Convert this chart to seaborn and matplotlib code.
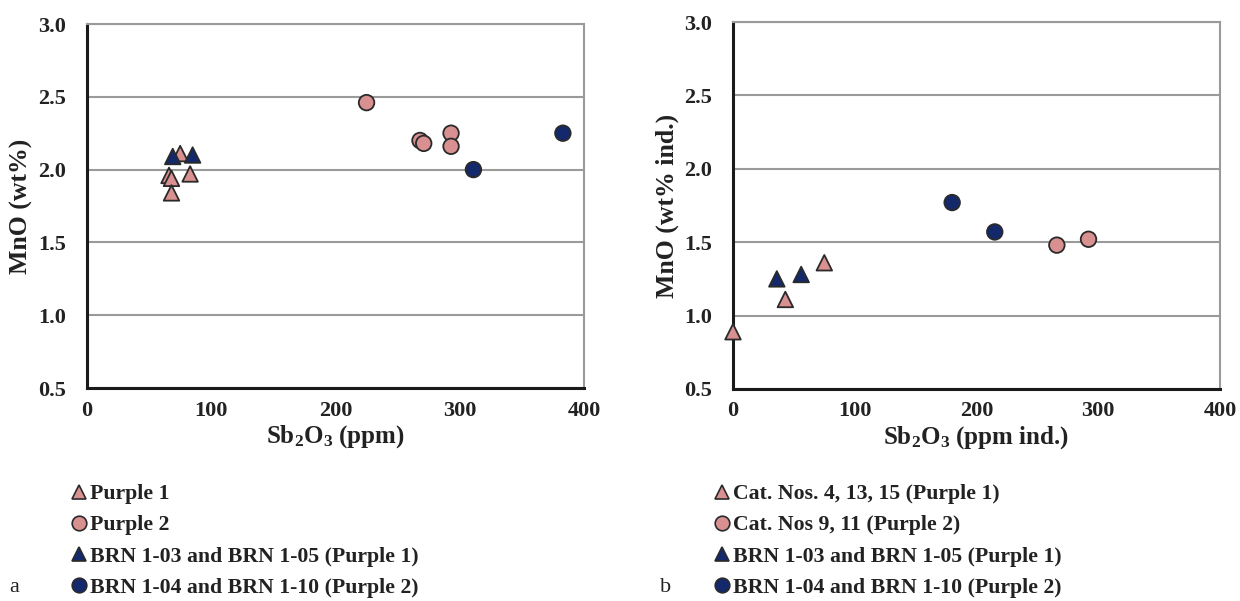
import numpy as np
import pandas as pd
import matplotlib
matplotlib.use("Agg")
import matplotlib.pyplot as plt
from matplotlib.lines import Line2D
import seaborn as sns

# ---------------- data ----------------
# panel a
a_p1_x = [75, 66, 68, 83, 68]
a_p1_y = [2.11, 1.96, 1.94, 1.97, 1.84]
a_p2_x = [225, 268, 271, 293, 293]
a_p2_y = [2.46, 2.20, 2.18, 2.25, 2.16]
a_b1_x = [69, 85]
a_b1_y = [2.09, 2.10]
a_b2_x = [311, 383]
a_b2_y = [2.00, 2.25]
# panel b
b_p1_x = [0, 43, 75]
b_p1_y = [0.89, 1.11, 1.36]
b_p2_x = [266, 292]
b_p2_y = [1.48, 1.52]
b_b1_x = [36, 56]
b_b1_y = [1.25, 1.28]
b_b2_x = [180, 215]
b_b2_y = [1.77, 1.57]

labels_a = ["Purple 1", "Purple 2",
            "BRN 1-03 and BRN 1-05 (Purple 1)",
            "BRN 1-04 and BRN 1-10 (Purple 2)"]
labels_b = ["Cat. Nos. 4, 13, 15 (Purple 1)", "Cat. Nos 9, 11 (Purple 2)",
            "BRN 1-03 and BRN 1-05 (Purple 1)",
            "BRN 1-04 and BRN 1-10 (Purple 2)"]
x_ticks = [0, 100, 200, 300, 400]
y_ticks = [0.5, 1.0, 1.5, 2.0, 2.5, 3.0]

PINK = "#D99090"
NAVY = "#13296B"
EDGE = "#2a2a2a"
TXT = "#222222"
colors = [PINK, PINK, NAVY, NAVY]
markers = ["^", "o", "^", "o"]

sns.set_style("white")
plt.rcParams["font.family"] = ["Liberation Serif", "DejaVu Serif"]
plt.rcParams["mathtext.fontset"] = "custom"
plt.rcParams["mathtext.rm"] = "Liberation Serif"
plt.rcParams["mathtext.bf"] = "Liberation Serif:bold"


def make_df(xs, ys, labels):
    rows = []
    for x, y, lab in zip(xs, ys, labels):
        for xi, yi in zip(x, y):
            rows.append({"x": xi, "y": yi, "group": lab})
    return pd.DataFrame(rows)


fig = plt.figure(figsize=(12.4, 6.01), dpi=100)
ax_a = fig.add_axes([87 / 1240, 1 - 388 / 601, (584 - 87) / 1240, (388 - 24) / 601])
ax_b = fig.add_axes([733 / 1240, 1 - 389 / 601, (1220 - 733) / 1240, (389 - 22) / 601])

panels = [
    (ax_a, make_df([a_p1_x, a_p2_x, a_b1_x, a_b2_x], [a_p1_y, a_p2_y, a_b1_y, a_b2_y], labels_a),
     labels_a, "MnO (wt%)", r"$\mathbf{Sb_2O_3}$ (ppm)", 70 / 1240, "a", 9 / 1240),
    (ax_b, make_df([b_p1_x, b_p2_x, b_b1_x, b_b2_x], [b_p1_y, b_p2_y, b_b1_y, b_b2_y], labels_b),
     labels_b, "MnO (wt% ind.)", r"$\mathbf{Sb_2O_3}$ (ppm ind.)", 713 / 1240, "b", 660 / 1240),
]

for ax, df, labels, ylab, xlab, legx, letter, letx in panels:
    ax.set_axisbelow(True)
    sns.scatterplot(data=df, x="x", y="y", hue="group", style="group",
                    hue_order=labels, style_order=labels,
                    palette=dict(zip(labels, colors)),
                    markers=dict(zip(labels, markers)),
                    s=125, edgecolor=EDGE, linewidth=1.3, legend=False,
                    ax=ax, zorder=3, clip_on=False)
    ax.set_xlim(0, 400)
    ax.set_ylim(0.5, 3.0)
    ax.set_xticks(x_ticks)
    ax.set_yticks(y_ticks)
    ax.set_xticklabels([str(t) for t in x_ticks], fontweight="bold", fontsize=16)
    ax.set_yticklabels([f"{t:.1f}" for t in y_ticks], fontweight="bold", fontsize=16)
    ax.yaxis.grid(True, color="#9a9a9a", linewidth=1.5)
    ax.xaxis.grid(False)
    for side in ["left", "bottom"]:
        ax.spines[side].set_color("#1a1a1a")
        ax.spines[side].set_linewidth(2.2)
    for side in ["right", "top"]:
        ax.spines[side].set_color("#9a9a9a")
        ax.spines[side].set_linewidth(1.5)
    ax.tick_params(axis="both", direction="inout", length=12, width=2.2,
                   color="#1a1a1a", labelcolor=TXT)
    ax.tick_params(axis="y", pad=9)
    ax.tick_params(axis="x", pad=3)
    ax.set_ylabel(ylab, fontweight="bold", fontsize=18.5, labelpad=4, color=TXT)
    ax.set_xlabel(xlab, fontweight="bold", fontsize=18, labelpad=2, color=TXT)

    handles = [Line2D([], [], linestyle="none", marker=m, markersize=10.5,
                      markerfacecolor=c, markeredgecolor=EDGE, markeredgewidth=1.2)
               for m, c in zip(markers, colors)]
    ax.legend(handles, labels, loc="upper left", bbox_to_anchor=(legx, 1 - 484 / 601),
              bbox_transform=fig.transFigure, frameon=False, borderpad=0,
              borderaxespad=0, handlelength=0.8, handletextpad=0.1,
              labelspacing=0.5,
              prop={"family": "Liberation Serif", "weight": "bold", "size": 15.7},
              labelcolor=TXT)
    fig.text(letx, 1 - 588 / 601, letter, fontsize=16, va="center", ha="left", color=TXT)

fig.savefig("out.png", dpi=100)
